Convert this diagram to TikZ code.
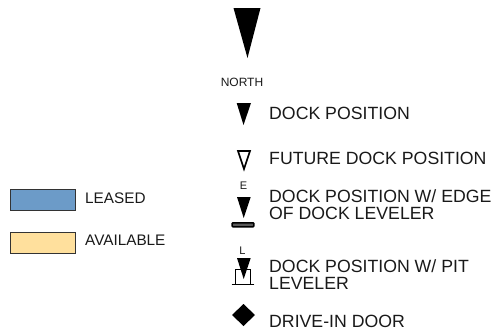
\documentclass[tikz,border=0pt]{standalone}
\usepackage{fontspec}
\setmainfont{Liberation Sans}
\tikzset{
  x=1pt,y=-1pt,
  lab/.style={anchor=west,inner sep=0pt,font=\fontsize{17.7}{17.5}\selectfont,align=left,text=black!90},
  leg/.style={anchor=west,inner sep=0pt,font=\fontsize{15.3}{16}\selectfont,text=black!90},
  small/.style={inner sep=0pt,font=\fontsize{11}{12}\selectfont,text=black!90},
  northlab/.style={inner sep=0pt,font=\fontsize{12}{12}\selectfont,text=black!90},
  swatch/.style={draw=black!80,line width=0.9pt},
  solidtri/.style={fill=black,draw=none},
}
\definecolor{leasedblue}{RGB}{108,155,200}
\definecolor{availyellow}{RGB}{255,224,157}
\begin{document}
\begin{tikzpicture}
\useasboundingbox (0,0) rectangle (493,335);
\fill[solidtri] (233.5,8) -- (260.5,8) -- (247.5,58) -- cycle;
\node[northlab] (north) at (242,82) {NORTH};
% dock position
\fill[solidtri] (236.7,103) -- (251,103) -- (243.5,125) -- cycle;
\node[lab] (dock) at (269,113) {DOCK POSITION};
% future
\draw[line width=1.6pt,line join=miter] (238,151) -- (250,151) -- (244,169) -- cycle;
\node[lab] (future) at (269,158) {FUTURE DOCK POSITION};
% edge of dock
\node[small] (e) at (243.5,186) {E};
\fill[solidtri] (237,197) -- (250.7,197) -- (243.7,218) -- cycle;
\draw[line width=1.5pt,rounded corners=0.8pt,fill=black!65] (232.2,222.8) rectangle (253.8,226.8);
\node[lab] (edge) at (269,204.5) {DOCK POSITION W/ EDGE\\OF DOCK LEVELER};
% pit
\node[small] (l) at (242.5,251) {L};
\draw[line width=0.7pt] (235.5,284) -- (235.5,269.5) -- (250,269.5) -- (250,284);
\fill[solidtri] (237,258) -- (250.7,258) -- (243.7,279) -- cycle;
\draw[line width=1.4pt,line cap=round] (232.5,284.5) -- (253.5,284.5);
\node[lab] (pit) at (269,274.5) {DOCK POSITION W/ PIT\\LEVELER};
% drive-in
\fill[solidtri] (243.5,304) -- (255,315) -- (243.5,326) -- (232,315) -- cycle;
\node[lab] (drive) at (269,321.5) {DRIVE-IN DOOR};
% legend
\draw[swatch,fill=leasedblue] (10,189) rectangle (75,210);
\node[leg] (leased) at (85,198) {LEASED};
\draw[swatch,fill=availyellow] (10,232) rectangle (75,253);
\node[leg] (avail) at (85,240) {AVAILABLE};
\end{tikzpicture}
\end{document}
